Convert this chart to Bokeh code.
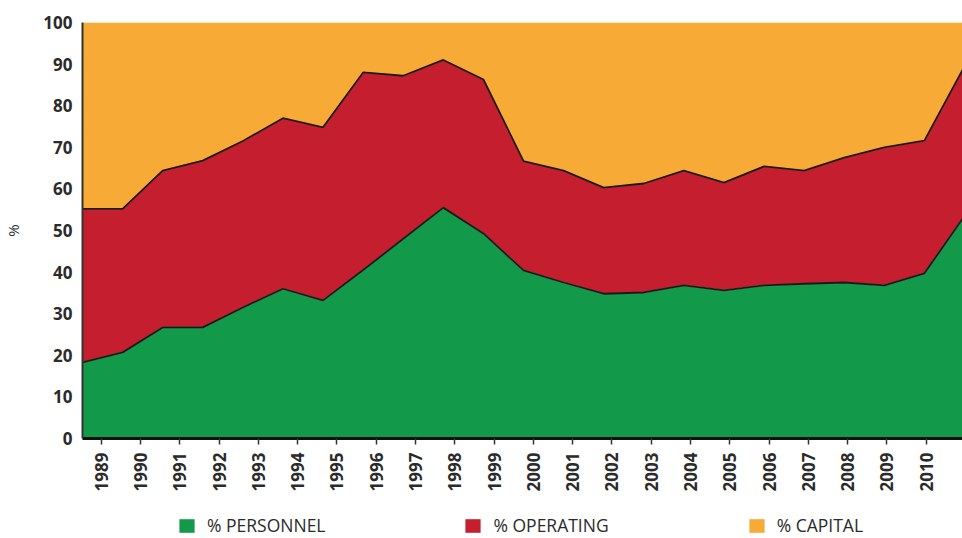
import math
from bokeh.plotting import figure
from bokeh.layouts import column
from bokeh.models import ColumnDataSource, Range1d, FixedTicker, Legend, LegendItem
from bokeh.transform import stack
from bokeh.embed import file_html
from bokeh.resources import INLINE

# ---- data ----
years = list(range(1989, 2012))
personnel = [18.3, 20.7, 26.7, 26.7, 31.5, 36.0, 33.2, 40.5, 48.0, 55.5, 49.3, 40.4,
             37.5, 34.8, 35.1, 36.8, 35.6, 36.8, 37.2, 37.5, 36.8, 39.7, 53.5]
operating = [36.9, 34.5, 37.7, 40.1, 40.0, 41.0, 41.6, 47.5, 39.2, 35.5, 37.0, 26.3,
             26.9, 25.5, 26.2, 27.6, 25.9, 28.6, 27.2, 30.0, 33.2, 31.9, 36.0]
capital = [44.8, 44.8, 35.6, 33.2, 28.5, 23.0, 25.2, 12.0, 12.8, 9.0, 13.7, 33.3,
           35.6, 39.7, 38.7, 35.6, 38.5, 34.6, 35.6, 32.5, 30.0, 28.4, 10.5]
series_labels = ["% PERSONNEL", "% OPERATING", "% CAPITAL"]
y_ticks = list(range(0, 101, 10))

GREEN = "#12994a"
RED = "#c51f2f"
ORANGE = "#f8aa37"
COLORS = [GREEN, RED, ORANGE]
TEXT = "#2b2b2b"
STACKERS = ["personnel", "operating", "capital"]

x = [y - years[0] for y in years]
source = ColumnDataSource(dict(x=x, personnel=personnel, operating=operating, capital=capital))

p = figure(width=962, height=505, output_backend="svg", toolbar_location=None,
           x_range=Range1d(0, 21.95), y_range=Range1d(0, 100),
           min_border_left=82, min_border_right=0, min_border_top=22, min_border_bottom=67)
p.outline_line_color = None
p.grid.visible = False
p.background_fill_color = "white"
p.border_fill_color = "white"

rs = p.varea_stack(stackers=STACKERS, x="x", color=COLORS, source=source)

# boundary outlines (light highlight + dark edge)
p.line(x="x", y=stack("personnel", "operating"), source=source, line_color="#e8707c",
       line_width=1.2, line_alpha=0.8)
p.line(x="x", y=stack("personnel"), source=source, line_color="#7fd6a0",
       line_width=1.2, line_alpha=0.8)
p.line(x="x", y=stack("personnel", "operating"), source=source, line_color="#1e1a12",
       line_width=1.8)
p.line(x="x", y=stack("personnel"), source=source, line_color="#1a1a1a", line_width=1.8)

# x axis ticks (category positions) and labels
tick_pos = [round(0.466 + 0.98 * k, 4) for k in range(len(years))]
p.xaxis.ticker = FixedTicker(ticks=tick_pos)
p.xaxis.major_label_overrides = {t: str(yr) for t, yr in zip(tick_pos, years)}
p.xaxis.major_label_orientation = math.pi / 2
p.xaxis.major_label_text_font = "Open Sans"
p.xaxis.major_label_text_font_size = "17px"
p.xaxis.major_label_text_font_style = "bold"
p.xaxis.major_label_text_color = TEXT
p.xaxis.major_tick_out = 6
p.xaxis.major_tick_in = 0
p.xaxis.major_tick_line_color = "#333333"
p.xaxis.major_tick_line_width = 1.5
p.xaxis.minor_tick_line_color = None
p.xaxis.axis_line_color = "#111111"
p.xaxis.axis_line_width = 3
p.xaxis.major_label_standoff = 8

p.yaxis.ticker = FixedTicker(ticks=y_ticks)
p.yaxis.major_label_text_font = "Open Sans"
p.yaxis.major_label_text_font_size = "17px"
p.yaxis.major_label_text_font_style = "bold"
p.yaxis.major_label_text_color = TEXT
p.yaxis.major_tick_out = 0
p.yaxis.major_tick_in = 0
p.yaxis.minor_tick_line_color = None
p.yaxis.axis_line_color = "#333333"
p.yaxis.axis_line_width = 2
p.yaxis.major_label_standoff = 10
p.yaxis.axis_label = "%"
p.yaxis.axis_label_text_font = "Open Sans"
p.yaxis.axis_label_text_font_size = "15px"
p.yaxis.axis_label_text_font_style = "normal"
p.yaxis.axis_label_text_color = TEXT
p.yaxis.axis_label_standoff = 17

# ---- legend strip below the chart (same series, drawn outside its visible range) ----
leg = figure(width=962, height=33, output_backend="svg", toolbar_location=None,
             x_range=Range1d(0, 21.95), y_range=Range1d(1000, 1001),
             min_border_left=82, min_border_right=0, min_border_top=0, min_border_bottom=0)
leg.axis.visible = False
leg.grid.visible = False
leg.outline_line_color = None
swatches = leg.varea_stack(stackers=STACKERS, x="x", color=COLORS, source=source)
legend = Legend(items=[LegendItem(label=lab, renderers=[r]) for lab, r in zip(series_labels, swatches)],
                orientation="horizontal", location=(95, 1),
                glyph_width=19, glyph_height=17, label_standoff=11, spacing=138,
                padding=0, margin=0, border_line_color=None, background_fill_alpha=0,
                label_text_font="Open Sans", label_text_font_size="17.5px",
                label_text_color=TEXT, label_height=17)
leg.add_layout(legend, "center")

open("out.html", "w").write(file_html(column(p, leg), INLINE))
